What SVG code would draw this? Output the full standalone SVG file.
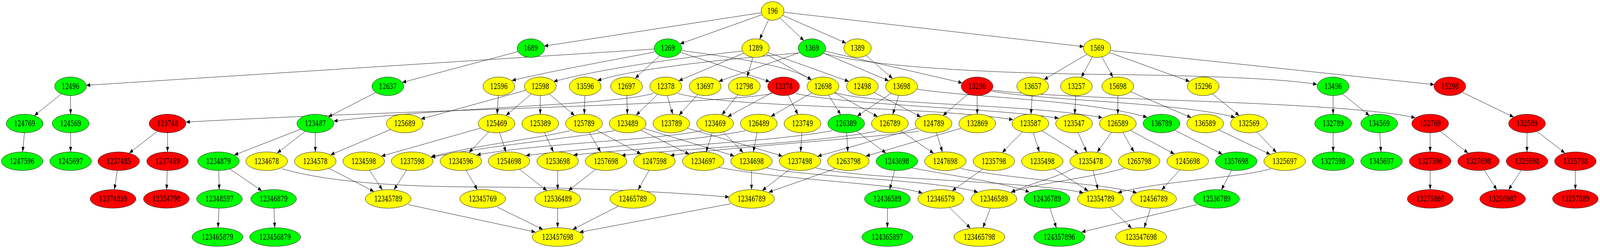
<svg xmlns="http://www.w3.org/2000/svg" width="5370" height="635" viewBox="0 0 5370 635" preserveAspectRatio="none">
<style>
:root{width:100vw;height:100vh;display:block}
.node ellipse{stroke:#000;stroke-width:1}
.g ellipse{fill:#00ff00}
.y ellipse{fill:#ffff00}
.r ellipse{fill:#ff0000}
text{font-family:"DejaVu Serif","Liberation Serif",serif;font-size:19.5px;text-anchor:middle;fill:#000}
#edges path{fill:none;stroke:#000;stroke-width:1;marker-end:url(#arr)}
</style>
<defs>
<marker id="arr" markerUnits="userSpaceOnUse" markerWidth="14" markerHeight="10" refX="13" refY="5" orient="auto" viewBox="0 0 14 10"><path d="M0,0 L13,5 L0,10 z" fill="#000"/></marker>
</defs>
<rect width="5370" height="635" fill="#fff"/>
<g id="edges">
<path d="M2555.7,32.4 L1826.7,118"/>
<path d="M2558.2,37.4 L2282.5,112.3"/>
<path d="M2579.7,50.4 L2549.6,100.6"/>
<path d="M2617.9,46 L2698.2,104"/>
<path d="M2626.7,39.2 L2839.5,110.3"/>
<path d="M2630.6,31.3 L3637,119.4"/>
<path d="M1739,132 L1350.2,211.1"/>
<path d="M2195.8,125.5 L289.6,218.4"/>
<path d="M2197,133.1 C2050,155 1850,181.9 1718,206.3"/>
<path d="M2214,142.7 L2131.7,200.6"/>
<path d="M2283.2,133.8 L2583.4,209.3"/>
<path d="M2288,129.4 C2500,151.4 2650,169.7 2724,204.5"/>
<path d="M2491,130.6 C2350,142.8 2050,169.7 1858,208.8"/>
<path d="M2496.8,136 L2277.9,206.9"/>
<path d="M2526.8,147.2 L2507.6,196.9"/>
<path d="M2571.8,138.7 L2723.6,204.3"/>
<path d="M2577.2,134.5 L2848.8,208.5"/>
<path d="M2680,135.5 C2450,151.4 2150,172.1 2005,206.3"/>
<path d="M2683.8,134.5 L2412.2,208.5"/>
<path d="M2764.1,136 L2982.7,206.9"/>
<path d="M2768.8,131 L3229.8,212.3"/>
<path d="M2765,136.7 C2950,175.8 3400,188 3700,190.5 S4300,200.2 4420,216.1"/>
<path d="M2907.1,142.3 L2995.7,201"/>
<path d="M3647.3,139.2 L3503.9,203.9"/>
<path d="M3666,146.1 L3629.3,197.8"/>
<path d="M3698.6,146.1 L3735.1,197.8"/>
<path d="M3723.2,134.5 L3992.7,208.5"/>
<path d="M3728,129.4 L4813.7,216.7"/>
<path d="M205.6,240.3 L115.3,296.1"/>
<path d="M236.7,244.8 L237,292.5"/>
<path d="M1261.8,236.6 L1101.6,299.3"/>
<path d="M1672.4,244.8 L1668.6,292.5"/>
<path d="M1765.5,231 L1412.9,304.8"/>
<path d="M1783.1,240.7 L1698.2,295.8"/>
<path d="M1813.3,244.8 L1813.3,292.5"/>
<path d="M1843.5,240.7 L1928.5,295.8"/>
<path d="M1963,244.8 L1961,292.5"/>
<path d="M2103.7,244.8 L2105.7,292.5"/>
<path d="M2193,239.3 C2050,269.9 1500,274.7 1120,310.2"/>
<path d="M2207.2,241.4 L2135.1,295.1"/>
<path d="M2239.2,244.7 L2258,292.6"/>
<path d="M2275,239.3 C2450,277.2 3100,269.9 3400,306.5"/>
<path d="M2341.8,242 L2279,294.7"/>
<path d="M2476,242.6 L2422.8,294.2"/>
<path d="M2592,239.3 C2400,269.9 1400,279.6 624,312.6"/>
<path d="M2590.9,237.2 L2442.1,298.8"/>
<path d="M2645.2,243.8 L2678,293.2"/>
<path d="M2670,239.3 C2850,269.9 3350,277.2 3553,302.8"/>
<path d="M2724.6,237.7 L2587.4,298.3"/>
<path d="M2780.6,243.3 L2821.4,293.6"/>
<path d="M2800.9,237.4 L2945.2,298.7"/>
<path d="M2800,236.9 C2950,269.9 3450,265 3700,301.6"/>
<path d="M2934,236.9 L3090.3,299.2"/>
<path d="M2991,238.9 L2877.2,297.2"/>
<path d="M3016.6,244.1 L2996,293.1"/>
<path d="M3078,228.3 C3250,249.1 3650,255.2 3850,300.4"/>
<path d="M3249.2,240.7 L3164.7,295.8"/>
<path d="M3279.3,244.8 L3280,292.5"/>
<path d="M3327,233.2 C3500,257.6 3950,261.3 4145,300.4"/>
<path d="M3330,230.8 C3600,257.6 4500,257.6 4750,301.6"/>
<path d="M3464.1,244.8 L3460.2,292.5"/>
<path d="M3610.8,244.8 L3606.9,292.5"/>
<path d="M3751.7,244.8 L3751.7,292.5"/>
<path d="M3794.8,235 L3997.8,300.9"/>
<path d="M4069.3,240.3 L4159,296"/>
<path d="M4474.3,244.8 L4474.3,292.5"/>
<path d="M4505.6,240.3 L4596,296"/>
<path d="M4906.9,236 L5080.2,299.8"/>
<path d="M81.9,340.1 L76.1,388.9"/>
<path d="M237,340.1 L237,388.9"/>
<path d="M528,336.4 L433.7,391.9"/>
<path d="M562.3,340.1 L562.3,388.9"/>
<path d="M1009.2,330.8 L786.3,397"/>
<path d="M1024.2,336.4 L930.3,391.9"/>
<path d="M1058.3,340.1 L1058.3,388.9"/>
<path d="M1310.6,331.7 L1109.6,396.3"/>
<path d="M1612.7,328 L1280,399.9"/>
<path d="M1639.7,338 L1574.3,390.5"/>
<path d="M1676.8,339.7 L1698.1,389.2"/>
<path d="M1827.5,339.7 L1857.4,389.1"/>
<path d="M1913,334.6 C1800,355.4 1600,371.2 1446,401.8"/>
<path d="M1977.8,339.5 L2016,389.3"/>
<path d="M2002.8,333.7 L2151.2,394.3"/>
<path d="M2062,334.6 C1900,355.4 1600,377.3 1448,403"/>
<path d="M2151,333.1 L2313.1,394.9"/>
<path d="M2159.9,328.6 L2464.1,399.2"/>
<path d="M2306.8,328.2 L2626.3,399.7"/>
<path d="M2355,334.6 C2200,359 1800,367.6 1600,396.9"/>
<path d="M2390.1,340.1 L2369.9,388.9"/>
<path d="M2427.4,337.9 L2494.3,390.7"/>
<path d="M2540.6,340.1 L2528.4,388.9"/>
<path d="M2502,334.6 C2350,359 2000,377.3 1765,398.1"/>
<path d="M2691.2,340.1 L2687.1,388.9"/>
<path d="M2793,334.6 C2600,362.7 2200,374.9 1925,396.9"/>
<path d="M2841.8,340.1 L2845.5,388.9"/>
<path d="M2875,336.2 L2973.6,392.1"/>
<path d="M2942,335.8 C2750,365.1 2350,377.3 2086,398.1"/>
<path d="M3023.9,335.6 L3133.8,392.6"/>
<path d="M3079.1,328 L2744.2,400.1"/>
<path d="M3085,335.8 C2900,355.4 2500,372.5 2250,398.1"/>
<path d="M3143,340.1 L3163,388.9"/>
<path d="M3226.3,328.2 L2906.1,399.7"/>
<path d="M3430.8,337.9 L3363.8,390.7"/>
<path d="M3468.2,340.1 L3488.4,388.9"/>
<path d="M3497.6,335 L3619.6,393.2"/>
<path d="M3618.5,339.7 L3647.1,389.1"/>
<path d="M3730.3,339 L3682.4,389.8"/>
<path d="M3768.9,339.5 L3805.9,389.3"/>
<path d="M3794.4,333.9 L3941.3,394.2"/>
<path d="M3942.4,333.3 L4102.4,394.8"/>
<path d="M4090.3,332.6 L4263.4,395.3"/>
<path d="M4218.7,338 L4284.1,390.5"/>
<path d="M4474.3,340.1 L4474.3,388.9"/>
<path d="M4630.9,340.1 L4634.8,388.9"/>
<path d="M4800,340.1 L4800,388.9"/>
<path d="M4834,336.4 L4927.2,391.9"/>
<path d="M5125,340.1 L5125,388.9"/>
<path d="M5159,336.4 L5252.2,391.9"/>
<path d="M393.6,436.6 L384,485.5"/>
<path d="M561.3,436.6 L559.3,485.5"/>
<path d="M734.1,436.6 L735.9,485.5"/>
<path d="M772,432.9 L878.7,488.6"/>
<path d="M947,432.3 Q1150,477.5 1600,478.7 T2447,504.4"/>
<path d="M1104.3,431 L1255,490.3"/>
<path d="M1240.5,436 L1283.1,485.9"/>
<path d="M1364,436 L1322.4,485.9"/>
<path d="M1564.3,436 L1602.3,485.9"/>
<path d="M1743.6,433.7 L1835.6,487.9"/>
<path d="M1871.7,436.6 L1871.7,485.5"/>
<path d="M1999,433.7 L1907.8,487.9"/>
<path d="M2179,436 L2141.5,485.9"/>
<path d="M2412,428.6 C2650,462.9 3000,469 3096,494.6"/>
<path d="M2522.3,436.6 L2522.3,485.5"/>
<path d="M2573,429.9 C2700,453.1 3150,460.4 3282,492.2"/>
<path d="M2650,433.7 L2558.3,487.9"/>
<path d="M2737,429.9 C2900,460.4 3450,462.9 3636,493.4"/>
<path d="M2804,431.7 L2580,492.2"/>
<path d="M3002.2,436.6 L2986.1,485.5"/>
<path d="M3060,429.9 C3200,450.6 3380,469 3455,492.2"/>
<path d="M3223,431.1 C3400,460.4 3700,469 3815,493.4"/>
<path d="M3298,433.2 L3195.8,488.4"/>
<path d="M3538.3,432.6 L3652.2,488.9"/>
<path d="M3668.8,436.7 L3685.2,485.6"/>
<path d="M3607,429.9 C3540,456.7 3460,469 3393,492.2"/>
<path d="M3773,431.1 C3650,456.7 3480,469 3394,492.2"/>
<path d="M3959.8,435 L3898.6,486.6"/>
<path d="M4133.4,436.1 L4099.3,486.1"/>
<path d="M4265,432.3 C4150,456.7 3900,462.9 3752,493.4"/>
<path d="M4800,436.6 L4800,485.5"/>
<path d="M4981.8,436 L5023.7,485.9"/>
<path d="M5105.4,436 L5063.1,485.9"/>
<path d="M5287.3,436.6 L5287.3,485.5"/>
<path d="M735.1,533.1 L731.7,583.2"/>
<path d="M919.5,533.1 L922.1,583.2"/>
<path d="M1370,523.9 L1797,594.2"/>
<path d="M1668,530 L1822,587.4"/>
<path d="M1871.7,533.1 L1871.7,583.2"/>
<path d="M2075.3,528.1 L1922.2,587.4"/>
<path d="M2453,521.5 L1945,594.8"/>
<path d="M2978.3,533.1 L2978.3,583.2"/>
<path d="M3187.2,531.8 L3256.9,584.2"/>
<path d="M3323.9,532.9 L3299.1,583.3"/>
<path d="M3524.1,533 L3545.5,583.3"/>
<path d="M4017,523.9 L3630,594.2"/>
<path d="M3724.6,531.6 L3798.3,584.3"/>
<path d="M3861.5,533 L3840.2,583.3"/>
</g>
<g id="n196" class="node y"><ellipse cx="2593" cy="28" rx="38.3" ry="23.8"/><text x="2593" y="35" textLength="35" lengthAdjust="spacingAndGlyphs">196</text></g>
<g id="n1689" class="node g"><ellipse cx="1781.7" cy="123.3" rx="46" ry="23.8"/><text x="1781.7" y="130.3" textLength="46.8" lengthAdjust="spacingAndGlyphs">1689</text></g>
<g id="n1269" class="node g"><ellipse cx="2241.7" cy="123.3" rx="46" ry="23.8"/><text x="2241.7" y="130.3" textLength="46.8" lengthAdjust="spacingAndGlyphs">1269</text></g>
<g id="n1289" class="node y"><ellipse cx="2536" cy="123.3" rx="46" ry="23.8"/><text x="2536" y="130.3" textLength="46.8" lengthAdjust="spacingAndGlyphs">1289</text></g>
<g id="n1369" class="node g"><ellipse cx="2725" cy="123.3" rx="46" ry="23.8"/><text x="2725" y="130.3" textLength="46.8" lengthAdjust="spacingAndGlyphs">1369</text></g>
<g id="n1389" class="node y"><ellipse cx="2878.3" cy="123.3" rx="46" ry="23.8"/><text x="2878.3" y="130.3" textLength="46.8" lengthAdjust="spacingAndGlyphs">1389</text></g>
<g id="n1569" class="node y"><ellipse cx="3682.3" cy="123.3" rx="46" ry="23.8"/><text x="3682.3" y="130.3" textLength="46.8" lengthAdjust="spacingAndGlyphs">1569</text></g>
<g id="n12496" class="node g"><ellipse cx="236.7" cy="221" rx="53.3" ry="23.8"/><text x="236.7" y="228" textLength="58.5" lengthAdjust="spacingAndGlyphs">12496</text></g>
<g id="n12637" class="node g"><ellipse cx="1301.7" cy="221" rx="53.3" ry="23.8"/><text x="1301.7" y="228" textLength="58.5" lengthAdjust="spacingAndGlyphs">12637</text></g>
<g id="n12596" class="node y"><ellipse cx="1674.3" cy="221" rx="53.3" ry="23.8"/><text x="1674.3" y="228" textLength="58.5" lengthAdjust="spacingAndGlyphs">12596</text></g>
<g id="n12598" class="node y"><ellipse cx="1813.3" cy="221" rx="53.3" ry="23.8"/><text x="1813.3" y="228" textLength="58.5" lengthAdjust="spacingAndGlyphs">12598</text></g>
<g id="n13596" class="node y"><ellipse cx="1964" cy="221" rx="53.3" ry="23.8"/><text x="1964" y="228" textLength="58.5" lengthAdjust="spacingAndGlyphs">13596</text></g>
<g id="n12697" class="node y"><ellipse cx="2102.7" cy="221" rx="53.3" ry="23.8"/><text x="2102.7" y="228" textLength="58.5" lengthAdjust="spacingAndGlyphs">12697</text></g>
<g id="n12378" class="node y"><ellipse cx="2234.5" cy="221" rx="53.3" ry="23.8"/><text x="2234.5" y="228" textLength="58.5" lengthAdjust="spacingAndGlyphs">12378</text></g>
<g id="n13697" class="node y"><ellipse cx="2366.7" cy="221" rx="53.3" ry="23.8"/><text x="2366.7" y="228" textLength="58.5" lengthAdjust="spacingAndGlyphs">13697</text></g>
<g id="n12798" class="node y"><ellipse cx="2498.3" cy="221" rx="53.3" ry="23.8"/><text x="2498.3" y="228" textLength="58.5" lengthAdjust="spacingAndGlyphs">12798</text></g>
<g id="n12374" class="node r"><ellipse cx="2630" cy="221" rx="53.3" ry="23.8"/><text x="2630" y="228" textLength="58.5" lengthAdjust="spacingAndGlyphs">12374</text></g>
<g id="n12698" class="node y"><ellipse cx="2762.3" cy="221" rx="53.3" ry="23.8"/><text x="2762.3" y="228" textLength="58.5" lengthAdjust="spacingAndGlyphs">12698</text></g>
<g id="n12498" class="node y"><ellipse cx="2894.3" cy="221" rx="53.3" ry="23.8"/><text x="2894.3" y="228" textLength="58.5" lengthAdjust="spacingAndGlyphs">12498</text></g>
<g id="n13698" class="node y"><ellipse cx="3026" cy="221" rx="53.3" ry="23.8"/><text x="3026" y="228" textLength="58.5" lengthAdjust="spacingAndGlyphs">13698</text></g>
<g id="n13296" class="node r"><ellipse cx="3279.3" cy="221" rx="53.3" ry="23.8"/><text x="3279.3" y="228" textLength="58.5" lengthAdjust="spacingAndGlyphs">13296</text></g>
<g id="n13657" class="node y"><ellipse cx="3466" cy="221" rx="53.3" ry="23.8"/><text x="3466" y="228" textLength="58.5" lengthAdjust="spacingAndGlyphs">13657</text></g>
<g id="n13257" class="node y"><ellipse cx="3612.7" cy="221" rx="53.3" ry="23.8"/><text x="3612.7" y="228" textLength="58.5" lengthAdjust="spacingAndGlyphs">13257</text></g>
<g id="n15698" class="node y"><ellipse cx="3751.7" cy="221" rx="53.3" ry="23.8"/><text x="3751.7" y="228" textLength="58.5" lengthAdjust="spacingAndGlyphs">15698</text></g>
<g id="n15296" class="node y"><ellipse cx="4038.3" cy="221" rx="53.3" ry="23.8"/><text x="4038.3" y="228" textLength="58.5" lengthAdjust="spacingAndGlyphs">15296</text></g>
<g id="n13496" class="node g"><ellipse cx="4474.3" cy="221" rx="53.3" ry="23.8"/><text x="4474.3" y="228" textLength="58.5" lengthAdjust="spacingAndGlyphs">13496</text></g>
<g id="n15298" class="node r"><ellipse cx="4866" cy="221" rx="53.3" ry="23.8"/><text x="4866" y="228" textLength="58.5" lengthAdjust="spacingAndGlyphs">15298</text></g>
<g id="n124769" class="node g"><ellipse cx="82.7" cy="316.3" rx="61.7" ry="23.8"/><text x="82.7" y="323.3" textLength="70.2" lengthAdjust="spacingAndGlyphs">124769</text></g>
<g id="n124569" class="node g"><ellipse cx="237" cy="316.3" rx="61.7" ry="23.8"/><text x="237" y="323.3" textLength="70.2" lengthAdjust="spacingAndGlyphs">124569</text></g>
<g id="n123748" class="node r"><ellipse cx="562.3" cy="316.3" rx="61.7" ry="23.8"/><text x="562.3" y="323.3" textLength="70.2" lengthAdjust="spacingAndGlyphs">123748</text></g>
<g id="n123487" class="node g"><ellipse cx="1058.3" cy="316.3" rx="61.7" ry="23.8"/><text x="1058.3" y="323.3" textLength="70.2" lengthAdjust="spacingAndGlyphs">123487</text></g>
<g id="n125689" class="node y"><ellipse cx="1358.3" cy="316.3" rx="61.7" ry="23.8"/><text x="1358.3" y="323.3" textLength="70.2" lengthAdjust="spacingAndGlyphs">125689</text></g>
<g id="n125469" class="node y"><ellipse cx="1666.7" cy="316.3" rx="61.7" ry="23.8"/><text x="1666.7" y="323.3" textLength="70.2" lengthAdjust="spacingAndGlyphs">125469</text></g>
<g id="n125389" class="node y"><ellipse cx="1813.3" cy="316.3" rx="61.7" ry="23.8"/><text x="1813.3" y="323.3" textLength="70.2" lengthAdjust="spacingAndGlyphs">125389</text></g>
<g id="n125789" class="node y"><ellipse cx="1960" cy="316.3" rx="61.7" ry="23.8"/><text x="1960" y="323.3" textLength="70.2" lengthAdjust="spacingAndGlyphs">125789</text></g>
<g id="n123489" class="node y"><ellipse cx="2106.7" cy="316.3" rx="61.7" ry="23.8"/><text x="2106.7" y="323.3" textLength="70.2" lengthAdjust="spacingAndGlyphs">123489</text></g>
<g id="n123789" class="node y"><ellipse cx="2253.3" cy="316.3" rx="61.7" ry="23.8"/><text x="2253.3" y="323.3" textLength="70.2" lengthAdjust="spacingAndGlyphs">123789</text></g>
<g id="n123469" class="node y"><ellipse cx="2400" cy="316.3" rx="61.7" ry="23.8"/><text x="2400" y="323.3" textLength="70.2" lengthAdjust="spacingAndGlyphs">123469</text></g>
<g id="n126489" class="node y"><ellipse cx="2546.7" cy="316.3" rx="61.7" ry="23.8"/><text x="2546.7" y="323.3" textLength="70.2" lengthAdjust="spacingAndGlyphs">126489</text></g>
<g id="n123749" class="node y"><ellipse cx="2693.3" cy="316.3" rx="61.7" ry="23.8"/><text x="2693.3" y="323.3" textLength="70.2" lengthAdjust="spacingAndGlyphs">123749</text></g>
<g id="n126389" class="node g"><ellipse cx="2840" cy="316.3" rx="61.7" ry="23.8"/><text x="2840" y="323.3" textLength="70.2" lengthAdjust="spacingAndGlyphs">126389</text></g>
<g id="n126789" class="node y"><ellipse cx="2986.7" cy="316.3" rx="61.7" ry="23.8"/><text x="2986.7" y="323.3" textLength="70.2" lengthAdjust="spacingAndGlyphs">126789</text></g>
<g id="n124789" class="node y"><ellipse cx="3133.3" cy="316.3" rx="61.7" ry="23.8"/><text x="3133.3" y="323.3" textLength="70.2" lengthAdjust="spacingAndGlyphs">124789</text></g>
<g id="n132869" class="node y"><ellipse cx="3280" cy="316.3" rx="61.7" ry="23.8"/><text x="3280" y="323.3" textLength="70.2" lengthAdjust="spacingAndGlyphs">132869</text></g>
<g id="n123587" class="node y"><ellipse cx="3458.3" cy="316.3" rx="61.7" ry="23.8"/><text x="3458.3" y="323.3" textLength="70.2" lengthAdjust="spacingAndGlyphs">123587</text></g>
<g id="n123547" class="node y"><ellipse cx="3605" cy="316.3" rx="61.7" ry="23.8"/><text x="3605" y="323.3" textLength="70.2" lengthAdjust="spacingAndGlyphs">123547</text></g>
<g id="n126589" class="node y"><ellipse cx="3751.7" cy="316.3" rx="61.7" ry="23.8"/><text x="3751.7" y="323.3" textLength="70.2" lengthAdjust="spacingAndGlyphs">126589</text></g>
<g id="n136789" class="node g"><ellipse cx="3898.3" cy="316.3" rx="61.7" ry="23.8"/><text x="3898.3" y="323.3" textLength="70.2" lengthAdjust="spacingAndGlyphs">136789</text></g>
<g id="n136589" class="node y"><ellipse cx="4045" cy="316.3" rx="61.7" ry="23.8"/><text x="4045" y="323.3" textLength="70.2" lengthAdjust="spacingAndGlyphs">136589</text></g>
<g id="n132569" class="node y"><ellipse cx="4191.7" cy="316.3" rx="61.7" ry="23.8"/><text x="4191.7" y="323.3" textLength="70.2" lengthAdjust="spacingAndGlyphs">132569</text></g>
<g id="n132789" class="node g"><ellipse cx="4474.3" cy="316.3" rx="61.7" ry="23.8"/><text x="4474.3" y="323.3" textLength="70.2" lengthAdjust="spacingAndGlyphs">132789</text></g>
<g id="n134569" class="node g"><ellipse cx="4629" cy="316.3" rx="61.7" ry="23.8"/><text x="4629" y="323.3" textLength="70.2" lengthAdjust="spacingAndGlyphs">134569</text></g>
<g id="n132769" class="node r"><ellipse cx="4800" cy="316.3" rx="61.7" ry="23.8"/><text x="4800" y="323.3" textLength="70.2" lengthAdjust="spacingAndGlyphs">132769</text></g>
<g id="n132589" class="node r"><ellipse cx="5125" cy="316.3" rx="61.7" ry="23.8"/><text x="5125" y="323.3" textLength="70.2" lengthAdjust="spacingAndGlyphs">132589</text></g>
<g id="n1247596" class="node g"><ellipse cx="74.3" cy="412.8" rx="69.7" ry="23.8"/><text x="74.3" y="419.8" textLength="81.9" lengthAdjust="spacingAndGlyphs">1247596</text></g>
<g id="n1245697" class="node g"><ellipse cx="237" cy="412.8" rx="69.7" ry="23.8"/><text x="237" y="419.8" textLength="81.9" lengthAdjust="spacingAndGlyphs">1245697</text></g>
<g id="n1237485" class="node r"><ellipse cx="398.3" cy="412.8" rx="69.7" ry="23.8"/><text x="398.3" y="419.8" textLength="81.9" lengthAdjust="spacingAndGlyphs">1237485</text></g>
<g id="n1237489" class="node r"><ellipse cx="562.3" cy="412.8" rx="69.7" ry="23.8"/><text x="562.3" y="419.8" textLength="81.9" lengthAdjust="spacingAndGlyphs">1237489</text></g>
<g id="n1234879" class="node g"><ellipse cx="733.3" cy="412.8" rx="69.7" ry="23.8"/><text x="733.3" y="419.8" textLength="81.9" lengthAdjust="spacingAndGlyphs">1234879</text></g>
<g id="n1234678" class="node y"><ellipse cx="895" cy="412.8" rx="69.7" ry="23.8"/><text x="895" y="419.8" textLength="81.9" lengthAdjust="spacingAndGlyphs">1234678</text></g>
<g id="n1234578" class="node y"><ellipse cx="1058.3" cy="412.8" rx="69.7" ry="23.8"/><text x="1058.3" y="419.8" textLength="81.9" lengthAdjust="spacingAndGlyphs">1234578</text></g>
<g id="n1234598" class="node y"><ellipse cx="1220.7" cy="412.8" rx="69.7" ry="23.8"/><text x="1220.7" y="419.8" textLength="81.9" lengthAdjust="spacingAndGlyphs">1234598</text></g>
<g id="n1237598" class="node y"><ellipse cx="1383.3" cy="412.8" rx="69.7" ry="23.8"/><text x="1383.3" y="419.8" textLength="81.9" lengthAdjust="spacingAndGlyphs">1237598</text></g>
<g id="n1234596" class="node y"><ellipse cx="1546.7" cy="412.8" rx="69.7" ry="23.8"/><text x="1546.7" y="419.8" textLength="81.9" lengthAdjust="spacingAndGlyphs">1234596</text></g>
<g id="n1254698" class="node y"><ellipse cx="1708.3" cy="412.8" rx="69.7" ry="23.8"/><text x="1708.3" y="419.8" textLength="81.9" lengthAdjust="spacingAndGlyphs">1254698</text></g>
<g id="n1253698" class="node y"><ellipse cx="1871.7" cy="412.8" rx="69.7" ry="23.8"/><text x="1871.7" y="419.8" textLength="81.9" lengthAdjust="spacingAndGlyphs">1253698</text></g>
<g id="n1257698" class="node y"><ellipse cx="2034" cy="412.8" rx="69.7" ry="23.8"/><text x="2034" y="419.8" textLength="81.9" lengthAdjust="spacingAndGlyphs">1257698</text></g>
<g id="n1247598" class="node y"><ellipse cx="2196.3" cy="412.8" rx="69.7" ry="23.8"/><text x="2196.3" y="419.8" textLength="81.9" lengthAdjust="spacingAndGlyphs">1247598</text></g>
<g id="n1234697" class="node y"><ellipse cx="2360" cy="412.8" rx="69.7" ry="23.8"/><text x="2360" y="419.8" textLength="81.9" lengthAdjust="spacingAndGlyphs">1234697</text></g>
<g id="n1234698" class="node y"><ellipse cx="2522.3" cy="412.8" rx="69.7" ry="23.8"/><text x="2522.3" y="419.8" textLength="81.9" lengthAdjust="spacingAndGlyphs">1234698</text></g>
<g id="n1237498" class="node y"><ellipse cx="2685" cy="412.8" rx="69.7" ry="23.8"/><text x="2685" y="419.8" textLength="81.9" lengthAdjust="spacingAndGlyphs">1237498</text></g>
<g id="n1263798" class="node y"><ellipse cx="2847.3" cy="412.8" rx="69.7" ry="23.8"/><text x="2847.3" y="419.8" textLength="81.9" lengthAdjust="spacingAndGlyphs">1263798</text></g>
<g id="n1243698" class="node g"><ellipse cx="3010" cy="412.8" rx="69.7" ry="23.8"/><text x="3010" y="419.8" textLength="81.9" lengthAdjust="spacingAndGlyphs">1243698</text></g>
<g id="n1247698" class="node y"><ellipse cx="3172.7" cy="412.8" rx="69.7" ry="23.8"/><text x="3172.7" y="419.8" textLength="81.9" lengthAdjust="spacingAndGlyphs">1247698</text></g>
<g id="n1235798" class="node y"><ellipse cx="3335.7" cy="412.8" rx="69.7" ry="23.8"/><text x="3335.7" y="419.8" textLength="81.9" lengthAdjust="spacingAndGlyphs">1235798</text></g>
<g id="n1235498" class="node y"><ellipse cx="3498.3" cy="412.8" rx="69.7" ry="23.8"/><text x="3498.3" y="419.8" textLength="81.9" lengthAdjust="spacingAndGlyphs">1235498</text></g>
<g id="n1235478" class="node y"><ellipse cx="3660.7" cy="412.8" rx="69.7" ry="23.8"/><text x="3660.7" y="419.8" textLength="81.9" lengthAdjust="spacingAndGlyphs">1235478</text></g>
<g id="n1265798" class="node y"><ellipse cx="3823.3" cy="412.8" rx="69.7" ry="23.8"/><text x="3823.3" y="419.8" textLength="81.9" lengthAdjust="spacingAndGlyphs">1265798</text></g>
<g id="n1245698" class="node y"><ellipse cx="3986.3" cy="412.8" rx="69.7" ry="23.8"/><text x="3986.3" y="419.8" textLength="81.9" lengthAdjust="spacingAndGlyphs">1245698</text></g>
<g id="n1357698" class="node g"><ellipse cx="4149" cy="412.8" rx="69.7" ry="23.8"/><text x="4149" y="419.8" textLength="81.9" lengthAdjust="spacingAndGlyphs">1357698</text></g>
<g id="n1325697" class="node y"><ellipse cx="4311.7" cy="412.8" rx="69.7" ry="23.8"/><text x="4311.7" y="419.8" textLength="81.9" lengthAdjust="spacingAndGlyphs">1325697</text></g>
<g id="n1327598" class="node g"><ellipse cx="4474.3" cy="412.8" rx="69.7" ry="23.8"/><text x="4474.3" y="419.8" textLength="81.9" lengthAdjust="spacingAndGlyphs">1327598</text></g>
<g id="n1345697" class="node g"><ellipse cx="4636.7" cy="412.8" rx="69.7" ry="23.8"/><text x="4636.7" y="419.8" textLength="81.9" lengthAdjust="spacingAndGlyphs">1345697</text></g>
<g id="n1327596" class="node r"><ellipse cx="4800" cy="412.8" rx="69.7" ry="23.8"/><text x="4800" y="419.8" textLength="81.9" lengthAdjust="spacingAndGlyphs">1327596</text></g>
<g id="n1327698" class="node r"><ellipse cx="4962.3" cy="412.8" rx="69.7" ry="23.8"/><text x="4962.3" y="419.8" textLength="81.9" lengthAdjust="spacingAndGlyphs">1327698</text></g>
<g id="n1325698" class="node r"><ellipse cx="5125" cy="412.8" rx="69.7" ry="23.8"/><text x="5125" y="419.8" textLength="81.9" lengthAdjust="spacingAndGlyphs">1325698</text></g>
<g id="n1325798" class="node r"><ellipse cx="5287.3" cy="412.8" rx="69.7" ry="23.8"/><text x="5287.3" y="419.8" textLength="81.9" lengthAdjust="spacingAndGlyphs">1325798</text></g>
<g id="n12374859" class="node r"><ellipse cx="379.3" cy="509.3" rx="76.7" ry="23.8"/><text x="379.3" y="516.3" textLength="93.6" lengthAdjust="spacingAndGlyphs">12374859</text></g>
<g id="n12354798" class="node r"><ellipse cx="558.3" cy="509.3" rx="76.7" ry="23.8"/><text x="558.3" y="516.3" textLength="93.6" lengthAdjust="spacingAndGlyphs">12354798</text></g>
<g id="n12348597" class="node g"><ellipse cx="736.7" cy="509.3" rx="76.7" ry="23.8"/><text x="736.7" y="516.3" textLength="93.6" lengthAdjust="spacingAndGlyphs">12348597</text></g>
<g id="n12346879" class="node g"><ellipse cx="918.3" cy="509.3" rx="76.7" ry="23.8"/><text x="918.3" y="516.3" textLength="93.6" lengthAdjust="spacingAndGlyphs">12346879</text></g>
<g id="n12345789" class="node y"><ellipse cx="1303" cy="509.3" rx="76.7" ry="23.8"/><text x="1303" y="516.3" textLength="93.6" lengthAdjust="spacingAndGlyphs">12345789</text></g>
<g id="n12345769" class="node y"><ellipse cx="1620" cy="509.3" rx="76.7" ry="23.8"/><text x="1620" y="516.3" textLength="93.6" lengthAdjust="spacingAndGlyphs">12345769</text></g>
<g id="n12536489" class="node y"><ellipse cx="1871.7" cy="509.3" rx="76.7" ry="23.8"/><text x="1871.7" y="516.3" textLength="93.6" lengthAdjust="spacingAndGlyphs">12536489</text></g>
<g id="n12465789" class="node y"><ellipse cx="2124" cy="509.3" rx="76.7" ry="23.8"/><text x="2124" y="516.3" textLength="93.6" lengthAdjust="spacingAndGlyphs">12465789</text></g>
<g id="n12346789" class="node y"><ellipse cx="2522.3" cy="509.3" rx="76.7" ry="23.8"/><text x="2522.3" y="516.3" textLength="93.6" lengthAdjust="spacingAndGlyphs">12346789</text></g>
<g id="n12436589" class="node g"><ellipse cx="2978.3" cy="509.3" rx="76.7" ry="23.8"/><text x="2978.3" y="516.3" textLength="93.6" lengthAdjust="spacingAndGlyphs">12436589</text></g>
<g id="n12346579" class="node y"><ellipse cx="3157.3" cy="509.3" rx="76.7" ry="23.8"/><text x="3157.3" y="516.3" textLength="93.6" lengthAdjust="spacingAndGlyphs">12346579</text></g>
<g id="n12346589" class="node y"><ellipse cx="3335.7" cy="509.3" rx="76.7" ry="23.8"/><text x="3335.7" y="516.3" textLength="93.6" lengthAdjust="spacingAndGlyphs">12346589</text></g>
<g id="n12436789" class="node g"><ellipse cx="3514" cy="509.3" rx="76.7" ry="23.8"/><text x="3514" y="516.3" textLength="93.6" lengthAdjust="spacingAndGlyphs">12436789</text></g>
<g id="n12354789" class="node y"><ellipse cx="3693.3" cy="509.3" rx="76.7" ry="23.8"/><text x="3693.3" y="516.3" textLength="93.6" lengthAdjust="spacingAndGlyphs">12354789</text></g>
<g id="n12456789" class="node y"><ellipse cx="3871.7" cy="509.3" rx="76.7" ry="23.8"/><text x="3871.7" y="516.3" textLength="93.6" lengthAdjust="spacingAndGlyphs">12456789</text></g>
<g id="n12536789" class="node g"><ellipse cx="4083.3" cy="509.3" rx="76.7" ry="23.8"/><text x="4083.3" y="516.3" textLength="93.6" lengthAdjust="spacingAndGlyphs">12536789</text></g>
<g id="n13275869" class="node r"><ellipse cx="4800" cy="509.3" rx="76.7" ry="23.8"/><text x="4800" y="516.3" textLength="93.6" lengthAdjust="spacingAndGlyphs">13275869</text></g>
<g id="n13256987" class="node r"><ellipse cx="5043.3" cy="509.3" rx="76.7" ry="23.8"/><text x="5043.3" y="516.3" textLength="93.6" lengthAdjust="spacingAndGlyphs">13256987</text></g>
<g id="n13257689" class="node r"><ellipse cx="5287.3" cy="509.3" rx="76.7" ry="23.8"/><text x="5287.3" y="516.3" textLength="93.6" lengthAdjust="spacingAndGlyphs">13257689</text></g>
<g id="n123465879" class="node g"><ellipse cx="730" cy="607" rx="85.5" ry="23.8"/><text x="730" y="614" textLength="105.3" lengthAdjust="spacingAndGlyphs">123465879</text></g>
<g id="n123456879" class="node g"><ellipse cx="923.3" cy="607" rx="85.5" ry="23.8"/><text x="923.3" y="614" textLength="105.3" lengthAdjust="spacingAndGlyphs">123456879</text></g>
<g id="n123457698" class="node y"><ellipse cx="1871.7" cy="607" rx="85.5" ry="23.8"/><text x="1871.7" y="614" textLength="105.3" lengthAdjust="spacingAndGlyphs">123457698</text></g>
<g id="n124365897" class="node g"><ellipse cx="2978.3" cy="607" rx="85.5" ry="23.8"/><text x="2978.3" y="614" textLength="105.3" lengthAdjust="spacingAndGlyphs">124365897</text></g>
<g id="n123465798" class="node y"><ellipse cx="3287.3" cy="607" rx="85.5" ry="23.8"/><text x="3287.3" y="614" textLength="105.3" lengthAdjust="spacingAndGlyphs">123465798</text></g>
<g id="n124357896" class="node g"><ellipse cx="3555.5" cy="607" rx="85.5" ry="23.8"/><text x="3555.5" y="614" textLength="105.3" lengthAdjust="spacingAndGlyphs">124357896</text></g>
<g id="n123547698" class="node y"><ellipse cx="3830" cy="607" rx="85.5" ry="23.8"/><text x="3830" y="614" textLength="105.3" lengthAdjust="spacingAndGlyphs">123547698</text></g>
</svg>
